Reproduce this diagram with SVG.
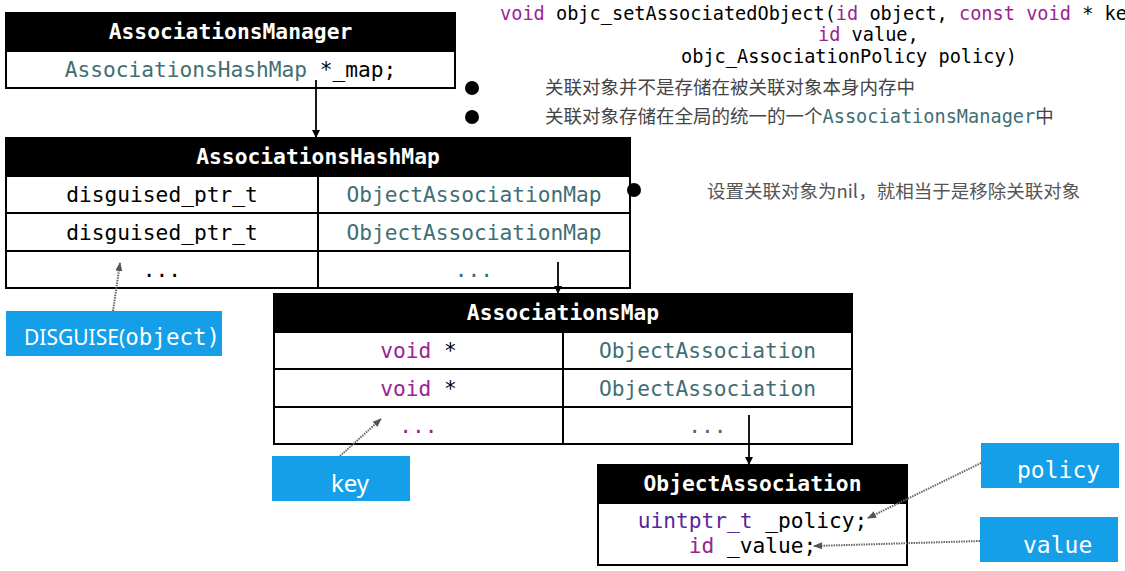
<svg xmlns="http://www.w3.org/2000/svg" width="1125" height="571" viewBox="0 0 1125 571">
<defs>
<style>
.box{fill:#fff;stroke:#000;stroke-width:2}
.hdr{fill:#000;stroke:#000;stroke-width:2}
.ht{font-family:"DejaVu Sans Mono",monospace;font-weight:bold;font-size:21.3px;fill:#fff;text-anchor:middle}
.m{font-family:"DejaVu Sans Mono",monospace;font-size:21.2px;fill:#000;text-anchor:middle}
.code{font-family:"DejaVu Sans Mono",monospace;font-size:18.6px;fill:#000}
.teal{fill:#3f6e74}
.kw{fill:#9b2393}
.ty{fill:#5c2699}
.cn{font-family:"Noto Sans CJK SC","Noto Sans",sans-serif;font-size:18.5px;fill:#444}
.blue{fill:#159fe9}
.bt{font-family:"Noto Sans",sans-serif;font-size:21px;fill:#fff}
.btm{font-family:"DejaVu Sans Mono",monospace;font-size:23px;fill:#fff}
.arr{stroke:#000;stroke-width:1.8;fill:none}
.dot{stroke:#666;stroke-width:2;stroke-dasharray:1.5 1;fill:none}
</style>
<marker id="ah" markerWidth="8" markerHeight="8" refX="7" refY="4" orient="auto" markerUnits="userSpaceOnUse"><path d="M0,0 L8,4 L0,8 z" fill="#000"/></marker>
<marker id="ahg" markerWidth="9" markerHeight="8" refX="8" refY="4" orient="auto" markerUnits="userSpaceOnUse"><path d="M0,0.5 L9,4 L0,7.5 z" fill="#555"/></marker>
</defs>
<rect width="1125" height="571" fill="#fff"/>

<g id="code-text">
<text class="code" x="500" y="20"><tspan class="kw">void</tspan> objc_setAssociatedObject(<tspan class="kw">id</tspan> object, <tspan class="kw">const</tspan> <tspan class="kw">void</tspan> * ke</text>
<text class="code" x="818" y="41"><tspan class="kw">id</tspan> value,</text>
<text class="code" x="681" y="63">objc_AssociationPolicy policy)</text>
</g>

<g id="AssociationsManager">
<rect class="hdr" x="6" y="13" width="449" height="38"/>
<rect class="box" x="6" y="51" width="449" height="37"/>
<text class="ht" x="230.5" y="39">AssociationsManager</text>
<text class="m" x="230.5" y="77"><tspan class="teal">AssociationsHashMap</tspan> *_map;</text>
</g>

<g id="AssociationsHashMap">
<rect class="hdr" x="6" y="138" width="624" height="38"/>
<rect class="box" x="6" y="176" width="624" height="112"/>
<line x1="6" y1="213" x2="630" y2="213" stroke="#000" stroke-width="2"/>
<line x1="6" y1="251" x2="630" y2="251" stroke="#000" stroke-width="2"/>
<line x1="318" y1="176" x2="318" y2="288" stroke="#000" stroke-width="2"/>
<text class="ht" x="318" y="164">AssociationsHashMap</text>
<text class="m" x="162" y="202">disguised_ptr_t</text>
<text class="m teal" x="474" y="202">ObjectAssociationMap</text>
<text class="m" x="162" y="240">disguised_ptr_t</text>
<text class="m teal" x="474" y="240">ObjectAssociationMap</text>
<text class="m" x="162" y="277">...</text>
<text class="m teal" x="474" y="277">...</text>
</g>

<g id="notes">
<circle cx="472" cy="88" r="7" fill="#000"/>
<text class="cn" x="545" y="94">关联对象并不是存储在被关联对象本身内存中</text>
<circle cx="472" cy="117" r="7" fill="#000"/>
<text class="cn" x="545" y="123">关联对象存储在全局的统一的一个<tspan font-family="DejaVu Sans Mono,monospace" font-size="18.6px" fill="#3f6e74">AssociationsManager</tspan>中</text>
<circle cx="634" cy="190" r="7" fill="#000"/>
<text class="cn" x="707" y="198" style="fill:#555">设置关联对象为nil，就相当于是移除关联对象</text>
</g>

<g id="AssociationsMap">
<rect class="hdr" x="274" y="294" width="578" height="38"/>
<rect class="box" x="274" y="332" width="578" height="112"/>
<line x1="274" y1="369" x2="852" y2="369" stroke="#000" stroke-width="2"/>
<line x1="274" y1="407" x2="852" y2="407" stroke="#000" stroke-width="2"/>
<line x1="563" y1="332" x2="563" y2="444" stroke="#000" stroke-width="2"/>
<text class="ht" x="563" y="320">AssociationsMap</text>
<text class="m" x="418.5" y="358"><tspan class="kw">void</tspan> *</text>
<text class="m teal" x="707.5" y="358">ObjectAssociation</text>
<text class="m" x="418.5" y="396"><tspan class="kw">void</tspan> *</text>
<text class="m teal" x="707.5" y="396">ObjectAssociation</text>
<text class="m kw" x="418.5" y="433">...</text>
<text class="m teal" x="707.5" y="433">...</text>
</g>

<g id="ObjectAssociation">
<rect class="hdr" x="598" y="465" width="309" height="38"/>
<rect class="box" x="598" y="503" width="309" height="62"/>
<text class="ht" x="752.5" y="491">ObjectAssociation</text>
<text class="m" x="752.5" y="528"><tspan class="ty">uintptr_t</tspan> _policy;</text>
<text class="m" x="752.5" y="553"><tspan class="kw">id</tspan> _value;</text>
</g>

<g id="label-disguise">
<rect class="blue" x="6" y="311" width="216" height="45"/>
<text class="bt" x="24" y="345">DISGUISE(<tspan font-family="DejaVu Sans Mono,monospace" font-size="22.5px">object)</tspan></text>
</g>
<g id="label-key">
<rect class="blue" x="272" y="456" width="138" height="45"/>
<text class="bt" x="350" y="492" style="font-size:24px;text-anchor:middle">key</text>
</g>
<g id="label-policy">
<rect class="blue" x="981" y="443" width="138" height="45"/>
<text class="btm" x="1017" y="478">policy</text>
</g>
<g id="label-value">
<rect class="blue" x="980" y="517" width="138" height="45"/>
<text class="btm" x="1023" y="553">value</text>
</g>

<g id="connectors">
<line class="arr" x1="316" y1="80" x2="316" y2="137" marker-end="url(#ah)"/>
<line class="arr" x1="558" y1="262" x2="558" y2="293" marker-end="url(#ah)"/>
<line class="arr" x1="749" y1="415" x2="749" y2="464" marker-end="url(#ah)"/>
<line class="dot" x1="113" y1="311" x2="120" y2="263" marker-end="url(#ahg)"/>
<line class="dot" x1="340" y1="456" x2="381" y2="419" marker-end="url(#ahg)"/>
<line class="dot" x1="981" y1="463" x2="868" y2="518" marker-end="url(#ahg)"/>
<line class="dot" x1="980" y1="541" x2="814" y2="546" marker-end="url(#ahg)"/>
</g>
</svg>
